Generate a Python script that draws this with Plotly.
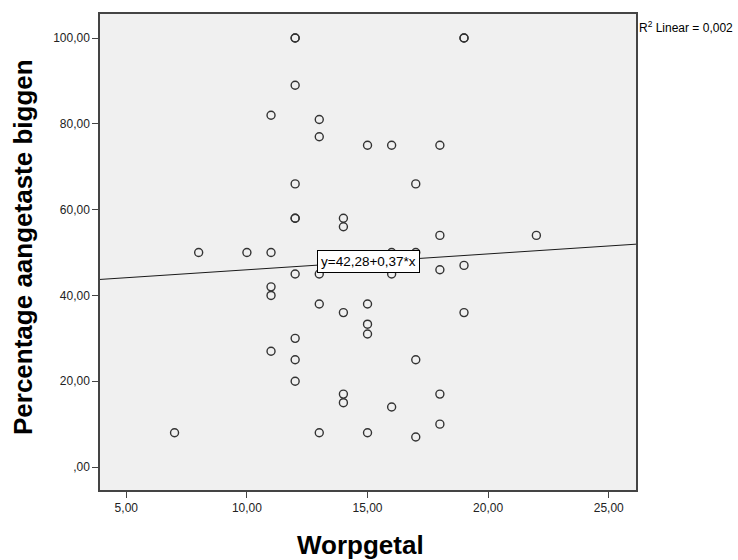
import plotly.graph_objects as go

# Data
worpgetal = [12, 12, 12, 11, 13, 13, 12, 12, 12, 14, 14,
             19, 19, 15, 16, 18, 17,
             8, 10, 11, 12, 13, 11, 11, 13, 14, 12, 11, 12, 12, 14, 14, 7, 13,
             18, 22, 16, 17, 16, 18, 19, 15, 19, 15, 15, 17, 18, 16, 18, 15, 17]
percentage = [100, 100, 89, 82, 81, 77, 66, 58, 58, 58, 56,
              100, 100, 75, 75, 75, 66,
              50, 50, 50, 45, 45, 42, 40, 38, 36, 30, 27, 25, 20, 17, 15, 8, 8,
              54, 54, 50, 50, 45, 46, 47, 38, 36, 33.3, 31, 25, 17, 14, 10, 8, 7]

intercept = 42.28
slope = 0.37
r2_text = "R<sup>2</sup> Linear = 0,002"
eq_text = "y=42,28+0,37*x"
x_title = "<b>Worpgetal</b>"
y_title = "<b>Percentage aangetaste biggen</b>"

x_range = [3.91, 26.13]
y_range = [-5.35, 105.6]

x_ticks = [5, 10, 15, 20, 25]
x_ticklabels = ["5,00", "10,00", "15,00", "20,00", "25,00"]
y_ticks = [0, 20, 40, 60, 80, 100]
y_ticklabels = [",00", "20,00", "40,00", "60,00", "80,00", "100,00"]

line_x = x_range
line_y = [intercept + slope * v for v in line_x]

fig = go.Figure()
fig.add_trace(go.Scatter(
    x=line_x, y=line_y, mode="lines",
    line=dict(color="#1a1a1a", width=1), hoverinfo="skip", showlegend=False))
fig.add_trace(go.Scatter(
    x=worpgetal, y=percentage, mode="markers",
    marker=dict(symbol="circle-open", size=8, color="#333333", line=dict(width=1.4, color="#333333")),
    showlegend=False))

sans = "Liberation Sans, Arial, sans-serif"

fig.add_annotation(
    x=12.89, y=47.8, xref="x", yref="y", xanchor="left", yanchor="middle",
    text=eq_text, showarrow=False, bgcolor="white", bordercolor="black", borderwidth=1,
    borderpad=3, font=dict(family=sans, size=13.5, color="black"))

fig.add_annotation(
    x=1.0, y=0.973, xref="paper", yref="paper", xanchor="left", yanchor="middle", xshift=1,
    text=r2_text, showarrow=False, font=dict(family=sans, size=12, color="black"))

fig.add_annotation(
    x=(360 - 100) / 536, y=(490 - 545) / 478, xref="paper", yref="paper",
    xanchor="center", yanchor="middle", text=x_title, showarrow=False,
    font=dict(family=sans, size=26, color="black"))

fig.add_annotation(
    x=(23 - 100) / 536, y=(490 - 246) / 478, xref="paper", yref="paper",
    xanchor="center", yanchor="middle", textangle=-90, text=y_title, showarrow=False,
    font=dict(family=sans, size=26, color="black"))

fig.update_layout(
    width=738, height=560,
    margin=dict(l=100, r=102, t=12, b=70),
    paper_bgcolor="white", plot_bgcolor="#f0f0f0",
    font=dict(family=sans, color="black"),
)
fig.update_xaxes(
    range=x_range, tickvals=x_ticks, ticktext=x_ticklabels,
    showgrid=False, zeroline=False, showline=True, linecolor="#444444", linewidth=1.5, mirror=True,
    ticks="outside", ticklen=6, tickcolor="#444444",
    tickfont=dict(family=sans, size=12, color="#222222"))
fig.update_yaxes(
    range=y_range, tickvals=y_ticks, ticktext=y_ticklabels,
    showgrid=False, zeroline=False, showline=True, linecolor="#444444", linewidth=1.5, mirror=True,
    ticks="outside", ticklen=6, tickcolor="#444444",
    tickfont=dict(family=sans, size=12, color="#222222"))

fig.write_html("out.html")
